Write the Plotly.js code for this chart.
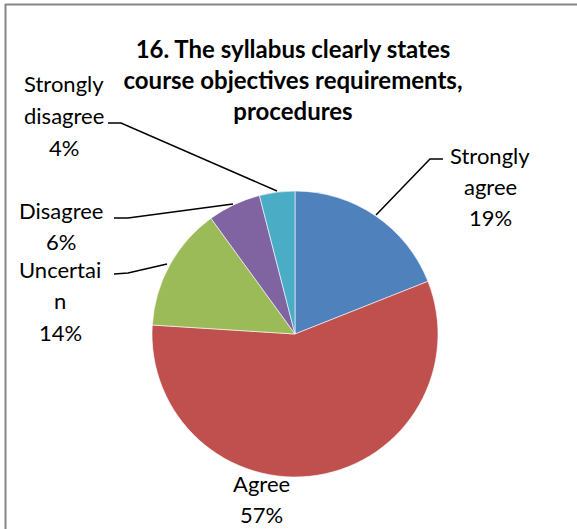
<!DOCTYPE html>
<html>
<head>
<meta charset="utf-8">
<script src="https://cdn.plot.ly/plotly-3.0.1.min.js"></script>
<style>html,body{margin:0;padding:0;background:#fff;}#chart{width:577px;height:529px;}</style>
</head>
<body>
<div id="chart"></div>
<script>
// ---- data ----
var categories = ['Strongly agree', 'Agree', 'Uncertain', 'Disagree', 'Strongly disagree'];
var percents = [19, 57, 14, 6, 4];
var labelLines = [['Strongly', 'agree'], ['Agree'], ['Uncertai', 'n'], ['Disagree'], ['Strongly', 'disagree']];
var sliceColors = ['#4F81BD', '#C0504D', '#9BBB59', '#8064A2', '#4BACC6'];
var titleLines = ['16. The syllabus clearly states', 'course objectives requirements,', 'procedures'];

// ---- layout helpers (pixel -> paper) ----
var W = 577, H = 529;
function px(x) { return x / W; }
function py(y) { return 1 - y / H; }

// label placement: [center x, first-line y] in pixels
var labelPos = [[490, 155], [261, 483], [60, 269], [61, 210], [64, 84]];
var lineGap = 31.5;
var annotations = [];
categories.forEach(function (c, i) {
  var lines = labelLines[i].concat([percents[i] + '%']);
  lines.forEach(function (t, k) {
    annotations.push({
      text: t, showarrow: false, xref: 'paper', yref: 'paper',
      x: px(labelPos[i][0]), y: py(labelPos[i][1] + k * lineGap),
      xanchor: 'center', yanchor: 'middle',
      font: {family: 'Lato, Carlito, sans-serif', size: 22, color: '#000'}
    });
  });
});

// leader lines (pixel paths)
var leaders = [
  [[443, 159], [430, 159], [376, 215]],
  [[108, 123], [121, 123], [277, 191]],
  [[114, 218], [128, 218], [233, 204]],
  [[114, 274], [128, 273], [167, 264]]
];
var shapes = leaders.map(function (pts) {
  var d = pts.map(function (p, k) { return (k ? 'L' : 'M') + px(p[0]) + ',' + py(p[1]); }).join(' ');
  return {type: 'path', xref: 'paper', yref: 'paper', path: d, line: {color: '#000', width: 1.5}};
});
// chart frame (top and left edges)
shapes.push({type: 'line', xref: 'paper', yref: 'paper', x0: px(5), x1: 1, y0: py(4.5), y1: py(4.5), line: {color: '#868686', width: 2}});
shapes.push({type: 'line', xref: 'paper', yref: 'paper', x0: px(5.5), x1: px(5.5), y0: py(4), y1: 0, line: {color: '#868686', width: 2}});

var trace = {
  type: 'pie',
  labels: categories,
  values: percents,
  sort: false,
  direction: 'clockwise',
  rotation: 0,
  textinfo: 'none',
  hoverinfo: 'label+percent',
  marker: {colors: sliceColors, line: {color: '#ffffff', width: 0.6}},
  domain: {x: [px(152), px(438)], y: [py(477), py(191)]},
  showlegend: false
};

var layout = {
  width: W, height: H,
  margin: {l: 0, r: 0, t: 0, b: 0},
  paper_bgcolor: '#ffffff',
  showlegend: false,
  title: {
    text: titleLines.join('<br>'),
    font: {family: 'Lato, Carlito, sans-serif', size: 24, color: '#000', weight: 'bold'},
    x: px(293), xanchor: 'center', y: py(58), yanchor: 'top'
  },
  annotations: annotations,
  shapes: shapes
};

Plotly.newPlot('chart', [trace], layout, {displayModeBar: false, staticPlot: true});
</script>
</body>
</html>
